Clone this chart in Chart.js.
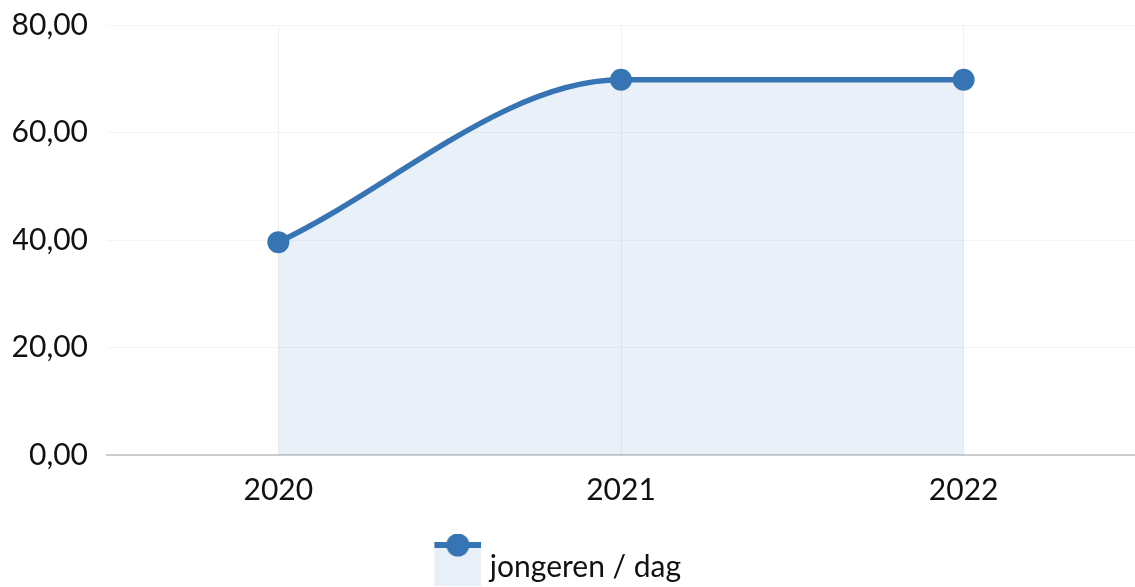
<!DOCTYPE html>
<html>
<head>
<meta charset="utf-8">
<script src="https://cdn.jsdelivr.net/npm/chart.js"></script>
<style>
  html, body { margin: 0; padding: 0; background: #fff; overflow: hidden; }
  #wrap { width: 1135px; height: 587px; }
</style>
</head>
<body>
<div id="wrap"><canvas id="chart"></canvas></div>
<script>
const years = ['2020', '2021', '2022'];
const jongerenPerDag = [39.6, 69.8, 69.8];
const yTicks = [0, 20, 40, 60, 80];

const lineColor = '#3774b4';
const fillColor = 'rgba(55, 116, 180, 0.11)';

// legend marker: line + dot on top of a filled box
const marker = document.createElement('canvas');
marker.width = 51;
marker.height = 68;
const mc = marker.getContext('2d');
mc.fillStyle = '#e8eff7';
mc.fillRect(4, 12, 47, 41);
mc.fillStyle = lineColor;
mc.fillRect(4, 9, 47, 6);
mc.beginPath();
mc.arc(27.5, 12, 11.5, 0, Math.PI * 2);
mc.fill();

const fmt = v => v.toFixed(2).replace('.', ',');

// legend box is clipped, so give it room above the text and nudge it left
const legendShift = {
  id: 'legendShift',
  beforeInit(chart) {
    const lg = chart.legend;
    const fit = lg.fit;
    lg.fit = function () {
      fit.call(this);
      this.height -= 5;
    };
    const draw = lg.draw;
    lg.draw = function () {
      const ctx = this.ctx;
      ctx.save();
      ctx.translate(-15, 0);
      draw.call(this);
      ctx.restore();
    };
  }
};

Chart.defaults.font.family = 'Lato, "Open Sans", sans-serif';
Chart.defaults.color = '#111';

new Chart(document.getElementById('chart'), {
  type: 'line',
  data: {
    labels: years,
    datasets: [{
      label: 'jongeren / dag',
      data: jongerenPerDag,
      borderColor: lineColor,
      backgroundColor: fillColor,
      borderWidth: 5.5,
      fill: 'origin',
      cubicInterpolationMode: 'monotone',
      pointRadius: 11,
      pointHoverRadius: 11,
      pointBackgroundColor: lineColor,
      pointBorderColor: lineColor,
      pointBorderWidth: 0,
      pointStyle: 'circle'
    }]
  },
  options: {
    responsive: true,
    maintainAspectRatio: false,
    animation: false,
    layout: { autoPadding: false, padding: { top: 0, left: 13, right: 0, bottom: 0 } },
    plugins: {
      tooltip: { enabled: false },
      legend: {
        position: 'bottom',
        labels: {
          font: { size: 30 },
          color: '#111',
          padding: 18,
          usePointStyle: true,
          pointStyleWidth: 38,
          generateLabels: chart => chart.data.datasets.map((ds, i) => ({
            text: ds.label,
            pointStyle: marker,
            datasetIndex: i,
            fontColor: '#111',
            lineWidth: 0
          }))
        }
      }
    },
    scales: {
      x: {
        offset: true,
        grid: { color: '#f0f0f0', drawTicks: false, offset: false },
        border: { color: '#cccccc', width: 2 },
        ticks: { font: { size: 30 }, padding: 17, color: '#111' },
        afterFit: axis => { axis.height += 9; }
      },
      y: {
        min: 0,
        max: 80,
        afterBuildTicks: axis => { axis.ticks = yTicks.map(v => ({ value: v })); },
        afterFit: axis => { axis.width = 94; axis.paddingTop = 25; },
        grid: { color: '#f4f4f4', drawTicks: false },
        border: { display: false },
        ticks: {
          font: { size: 30 },
          padding: 19,
          color: '#111',
          callback: v => fmt(v)
        }
      }
    }
  },
  plugins: [legendShift]
});
</script>
</body>
</html>
